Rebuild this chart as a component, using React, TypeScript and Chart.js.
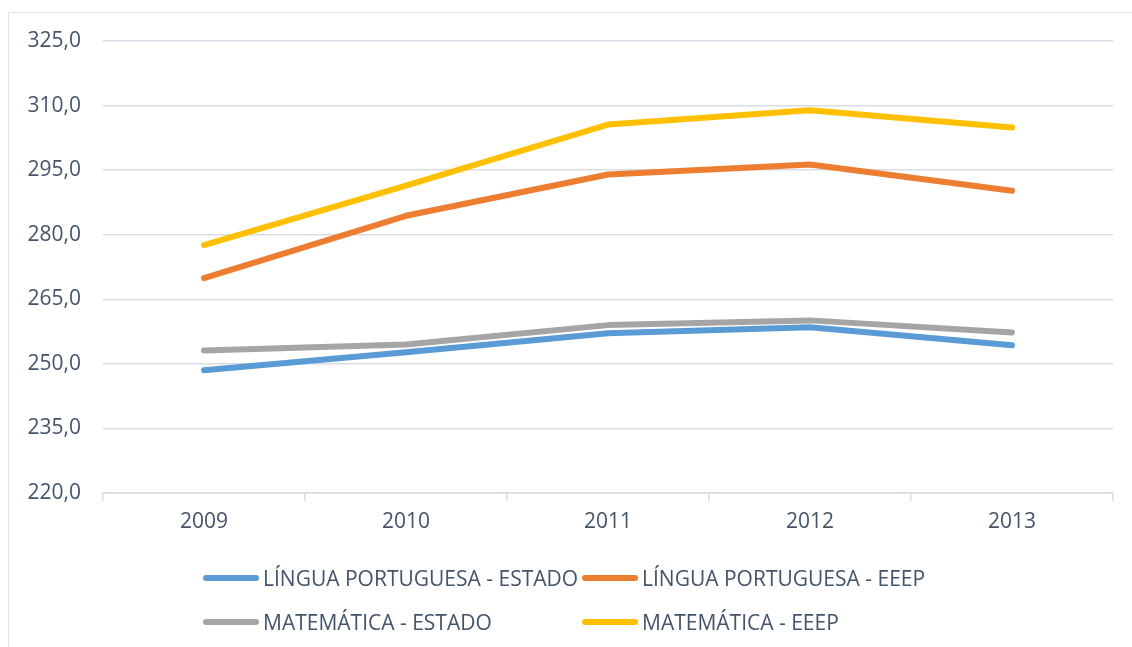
import React, { useEffect, useRef } from "react";
import { Chart, registerables } from "chart.js";

Chart.register(...registerables);

const years = ["2009", "2010", "2011", "2012", "2013"];
const lpEstado = [248.5, 252.7, 257.1, 258.5, 254.3];
const lpEeep = [269.9, 284.4, 294.0, 296.3, 290.2];
const matEstado = [253.1, 254.5, 259.0, 260.1, 257.3];
const matEeep = [277.6, 291.4, 305.6, 308.9, 304.9];

const seriesNames = [
  "LÍNGUA PORTUGUESA - ESTADO",
  "LÍNGUA PORTUGUESA - EEEP",
  "MATEMÁTICA - ESTADO",
  "MATEMÁTICA - EEEP",
];
const seriesColors = ["#5b9bd5", "#ed7d31", "#a5a5a5", "#ffc000"];
const seriesValues = [lpEstado, lpEeep, matEstado, matEeep];

const yMin = 220;
const yMax = 325;
const yStep = 15;

const FONT = "'Open Sans', sans-serif";
const TEXT = "#44546a";
const GRID = "#d9dde3";

export default function App() {
  const ref = useRef<HTMLCanvasElement | null>(null);

  useEffect(() => {
    document.body.style.margin = "0";
    const canvas = ref.current;
    if (!canvas) return;
    const chart = new Chart(canvas, {
      type: "line",
      data: {
        labels: years,
        datasets: seriesValues.map((vals, i) => ({
          label: seriesNames[i],
          data: vals,
          borderColor: seriesColors[i],
          backgroundColor: seriesColors[i],
          borderWidth: 6,
          borderCapStyle: "round" as const,
          borderJoinStyle: "round" as const,
          pointRadius: 0,
          tension: 0,
          fill: false,
        })),
      },
      options: {
        animation: false,
        responsive: false,
        maintainAspectRatio: false,
        layout: { padding: { top: 41, right: 19, left: 0, bottom: 0 } },
        plugins: {
          legend: { display: false },
          tooltip: { enabled: false },
        },
        scales: {
          x: {
            offset: true,
            grid: {
              offset: true,
              drawOnChartArea: false,
              drawTicks: true,
              tickLength: 8,
              color: GRID,
              lineWidth: 1.5,
            },
            border: { display: true, color: GRID, width: 1.5 },
            ticks: {
              color: TEXT,
              font: { family: FONT, size: 21 },
              padding: 8,
            },
            afterFit: (scale: any) => {
              scale.height = 647 - 493;
            },
          },
          y: {
            min: yMin,
            max: yMax,
            grid: { color: GRID, lineWidth: 1.5, drawTicks: false },
            border: { display: false },
            ticks: {
              stepSize: yStep,
              color: TEXT,
              font: { family: FONT, size: 21 },
              padding: 22,
              callback: (v: any) => Number(v).toFixed(1).replace(".", ","),
            },
            afterFit: (scale: any) => {
              scale.width = 103;
            },
          },
        },
      },
    });
    return () => chart.destroy();
  }, []);

  const legendItem = (i: number, left: number, top: number) => (
    <div
      key={i}
      style={{
        position: "absolute",
        left,
        top,
        display: "flex",
        alignItems: "center",
        height: 30,
      }}
    >
      <div
        style={{
          width: 56,
          height: 6,
          borderRadius: 3,
          background: seriesColors[i],
          marginRight: 4,
        }}
      />
      <span
        style={{
          fontFamily: FONT,
          fontSize: 21,
          color: TEXT,
          whiteSpace: "nowrap",
        }}
      >
        {seriesNames[i]}
      </span>
    </div>
  );

  return (
    <div
      style={{
        position: "relative",
        width: 1132,
        height: 647,
        overflow: "hidden",
        background: "#fff",
      }}
    >
      <div
        style={{
          position: "absolute",
          left: 8,
          top: 12,
          width: 1300,
          height: 800,
          border: "1.5px solid #dfe2e6",
          boxSizing: "border-box",
        }}
      />
      <canvas
        ref={ref}
        width={1132}
        height={647}
        style={{ position: "absolute", left: 0, top: 0 }}
      />
      {legendItem(0, 203, 563)}
      {legendItem(1, 582, 563)}
      {legendItem(2, 203, 607)}
      {legendItem(3, 582, 607)}
    </div>
  );
}
